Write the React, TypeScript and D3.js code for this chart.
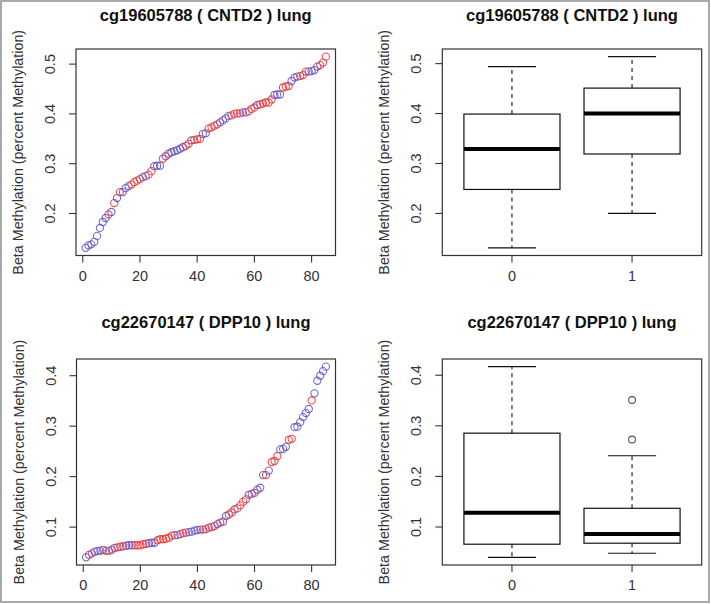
import React from "react";
import * as d3 from "d3";

// ---------- data ----------
const cntd2Title = "cg19605788 ( CNTD2 ) lung";
const dpp10Title = "cg22670147 ( DPP10 ) lung";
const yLabel = "Beta Methylation (percent Methylation)";

const cntd2Values = [
  0.131, 0.136, 0.138, 0.143, 0.155, 0.171, 0.183, 0.191, 0.198, 0.203,
  0.221, 0.231, 0.243, 0.243, 0.251, 0.255, 0.258, 0.263, 0.266, 0.269,
  0.273, 0.275, 0.278, 0.285, 0.295, 0.296, 0.296, 0.31, 0.315, 0.32,
  0.323, 0.325, 0.327, 0.33, 0.333, 0.336, 0.34, 0.347, 0.348, 0.349,
  0.35, 0.36, 0.361, 0.371, 0.373, 0.376, 0.379, 0.383, 0.387, 0.391,
  0.396, 0.397, 0.4, 0.401, 0.401, 0.403, 0.403, 0.405, 0.41, 0.413,
  0.418, 0.419, 0.421, 0.423, 0.423, 0.429, 0.438, 0.439, 0.439, 0.453,
  0.455, 0.456, 0.466, 0.473, 0.475, 0.476, 0.478, 0.485, 0.485, 0.486,
  0.488, 0.495, 0.498, 0.503, 0.515,
];
const cntd2Groups = [
  0, 0, 0, 0, 0, 0, 0, 0, 1, 0,
  1, 0, 1, 0, 0, 0, 1, 1, 1, 1,
  0, 0, 1, 1, 0, 0, 0, 1, 0, 1,
  0, 0, 0, 0, 0, 1, 1, 0, 1, 1,
  1, 0, 0, 1, 1, 1, 1, 0, 0, 0,
  0, 1, 1, 1, 1, 0, 0, 1, 1, 1,
  0, 1, 1, 1, 1, 1, 0, 0, 0, 1,
  1, 1, 0, 0, 0, 1, 1, 1, 0, 0,
  0, 0, 1, 1, 1,
];

const dpp10Values = [
  0.04, 0.045, 0.048, 0.051, 0.053, 0.053, 0.055, 0.053, 0.053, 0.055,
  0.059, 0.06, 0.061, 0.062, 0.063, 0.064, 0.064, 0.064, 0.064, 0.064,
  0.066, 0.067, 0.068, 0.069, 0.069, 0.074, 0.076, 0.076, 0.077, 0.079,
  0.083, 0.084, 0.084, 0.086, 0.088, 0.089, 0.09, 0.091, 0.093, 0.094,
  0.095, 0.095, 0.096, 0.099, 0.1, 0.102, 0.106, 0.109, 0.111, 0.122,
  0.125, 0.129, 0.135, 0.137, 0.143, 0.15, 0.155, 0.164, 0.166, 0.168,
  0.174, 0.178, 0.203, 0.203, 0.212, 0.229, 0.231, 0.241, 0.254, 0.255,
  0.259, 0.273, 0.275, 0.298, 0.299, 0.308, 0.318, 0.326, 0.334, 0.351,
  0.365, 0.39, 0.4, 0.409, 0.418,
];
const dpp10Groups = [
  0, 0, 1, 0, 0, 0, 0, 1, 1, 0,
  0, 1, 1, 1, 0, 0, 0, 1, 1, 1,
  1, 1, 0, 0, 0, 1, 1, 1, 1, 1,
  1, 1, 0, 0, 1, 1, 0, 0, 0, 0,
  0, 1, 1, 0, 1, 1, 0, 1, 0, 0,
  1, 1, 0, 1, 1, 1, 1, 0, 0, 1,
  0, 0, 0, 1, 0, 1, 1, 1, 0, 0,
  0, 1, 1, 0, 0, 0, 0, 0, 0, 1,
  0, 0, 0, 0, 0,
];

const boxCategories = ["0", "1"];
// [lower whisker, Q1, median, Q3, upper whisker]
const cntd2Box0 = [0.131, 0.248, 0.329, 0.399, 0.494];
const cntd2Box1 = [0.2, 0.319, 0.4, 0.451, 0.514];
const cntd2Outliers0: number[] = [];
const cntd2Outliers1: number[] = [];
const dpp10Box0 = [0.04, 0.066, 0.128, 0.2855, 0.417];
const dpp10Box1 = [0.048, 0.068, 0.0862, 0.137, 0.241];
const dpp10Outliers0: number[] = [];
const dpp10Outliers1 = [0.273, 0.351];

const xTicksScatter = [0, 20, 40, 60, 80];
const yTicksCntd2 = [0.2, 0.3, 0.4, 0.5];
const yTicksDpp10 = [0.1, 0.2, 0.3, 0.4];

// ---------- styles ----------
const FONT = "'Liberation Sans', Arial, sans-serif";
const COL_RED = "#f03a3a";
const COL_BLUE = "#6758c4";
const AXIS = "#333";

function rExtend(lo: number, hi: number): [number, number] {
  const r = hi - lo;
  return [lo - 0.04 * r, hi + 0.04 * r];
}

type Frame = { x0: number; x1: number; y0: number; y1: number; titleY: number };

function Axes({
  f, yScale, yTicks, xScale, xTicks, xLabels, title,
}: {
  f: Frame; yScale: d3.ScaleLinear<number, number>; yTicks: number[];
  xScale: (v: number) => number; xTicks: number[]; xLabels: string[]; title: string;
}) {
  const cx = (f.x0 + f.x1) / 2;
  const cy = (f.y0 + f.y1) / 2;
  return (
    <g fontFamily={FONT}>
      <text x={cx} y={f.titleY} textAnchor="middle" fontWeight="bold" fontSize={16.5} fill="#111">
        {title}
      </text>
      <text
        transform={`translate(${f.x0 - 53},${cy}) rotate(-90)`}
        textAnchor="middle" fontSize={14.3} fill="#333"
      >
        {yLabel}
      </text>
      <rect x={f.x0} y={f.y0} width={f.x1 - f.x0} height={f.y1 - f.y0} fill="none" stroke={AXIS} strokeWidth={1.2} />
      {yTicks.map((t) => (
        <g key={"y" + t}>
          <line x1={f.x0 - 7} x2={f.x0} y1={yScale(t)} y2={yScale(t)} stroke={AXIS} strokeWidth={1.1} />
          <text
            transform={`translate(${f.x0 - 21},${yScale(t)}) rotate(-90)`}
            textAnchor="middle" fontSize={14.5} fill="#333"
          >
            {d3.format(".1f")(t)}
          </text>
        </g>
      ))}
      {xTicks.map((t, i) => (
        <g key={"x" + t}>
          <line x1={xScale(t)} x2={xScale(t)} y1={f.y1} y2={f.y1 + 7} stroke={AXIS} strokeWidth={1.1} />
          <text x={xScale(t)} y={f.y1 + 25} textAnchor="middle" fontSize={14.5} fill="#333">
            {xLabels[i]}
          </text>
        </g>
      ))}
    </g>
  );
}

function ScatterPanel({ f, values, groups, yTicks, title }: {
  f: Frame; values: number[]; groups: number[]; yTicks: number[]; title: string;
}) {
  const n = values.length;
  const x = d3.scaleLinear().domain(rExtend(1, n)).range([f.x0, f.x1]);
  const [lo, hi] = d3.extent(values) as [number, number];
  const y = d3.scaleLinear().domain(rExtend(lo, hi)).range([f.y1, f.y0]);
  return (
    <g>
      <Axes f={f} yScale={y} yTicks={yTicks} xScale={x} xTicks={xTicksScatter}
        xLabels={xTicksScatter.map(String)} title={title} />
      {values.map((v, i) => (
        <circle key={i} cx={x(i + 1)} cy={y(v)} r={3.6} fill="none"
          stroke={groups[i] === 1 ? COL_RED : COL_BLUE} strokeWidth={1.1} strokeOpacity={0.9} />
      ))}
    </g>
  );
}

function BoxPanel({ f, boxes, outliers, yTicks, title }: {
  f: Frame; boxes: number[][]; outliers: number[][]; yTicks: number[]; title: string;
}) {
  const all = boxes.flat().concat(outliers.flat());
  const [lo, hi] = d3.extent(all) as [number, number];
  const y = d3.scaleLinear().domain(rExtend(lo, hi)).range([f.y1, f.y0]);
  const x = d3.scaleLinear().domain(rExtend(0.5, boxes.length + 0.5)).range([f.x0, f.x1]);
  const halfW = (x(1.4) - x(1)) ;
  const capW = halfW / 2;
  return (
    <g>
      <Axes f={f} yScale={y} yTicks={yTicks} xScale={(v) => x(v + 1)} xTicks={[0, 1]}
        xLabels={boxCategories} title={title} />
      {boxes.map((b, i) => {
        const cx = x(i + 1);
        const [wl, q1, med, q3, wh] = b;
        return (
          <g key={i} stroke="#111" fill="none">
            <line x1={cx} x2={cx} y1={y(q3)} y2={y(wh)} strokeDasharray="4,4" strokeWidth={1.1} />
            <line x1={cx} x2={cx} y1={y(q1)} y2={y(wl)} strokeDasharray="4,4" strokeWidth={1.1} />
            <line x1={cx - capW} x2={cx + capW} y1={y(wh)} y2={y(wh)} strokeWidth={1.1} />
            <line x1={cx - capW} x2={cx + capW} y1={y(wl)} y2={y(wl)} strokeWidth={1.1} />
            <rect x={cx - halfW} y={y(q3)} width={2 * halfW} height={y(q1) - y(q3)} strokeWidth={1.2} />
            <line x1={cx - halfW} x2={cx + halfW} y1={y(med)} y2={y(med)} strokeWidth={4} stroke="#000" />
            {outliers[i].map((o, j) => (
              <circle key={j} cx={cx} cy={y(o)} r={3.4} stroke="#555" strokeWidth={1.1} />
            ))}
          </g>
        );
      })}
    </g>
  );
}

export default function App() {
  const tl: Frame = { x0: 76, x1: 335.5, y0: 49, y1: 255.5, titleY: 21 };
  const tr: Frame = { x0: 442.3, x1: 701.7, y0: 49, y1: 255.5, titleY: 21 };
  const bl: Frame = { x0: 76.5, x1: 335.5, y0: 359, y1: 565, titleY: 328 };
  const br: Frame = { x0: 442.3, x1: 701.7, y0: 359, y1: 565, titleY: 328 };
  return (
    <svg width={711} height={604} style={{ position: "absolute", left: 0, top: 0, background: "#fff" }}>
      <rect x={0} y={0} width={711} height={604} fill="#fff" />
      <rect x={1} y={1} width={708} height={601} fill="none" stroke="#a9a9a9" strokeWidth={2} />
      <ScatterPanel f={tl} values={cntd2Values} groups={cntd2Groups} yTicks={yTicksCntd2} title={cntd2Title} />
      <BoxPanel f={tr} boxes={[cntd2Box0, cntd2Box1]} outliers={[cntd2Outliers0, cntd2Outliers1]}
        yTicks={yTicksCntd2} title={cntd2Title} />
      <ScatterPanel f={bl} values={dpp10Values} groups={dpp10Groups} yTicks={yTicksDpp10} title={dpp10Title} />
      <BoxPanel f={br} boxes={[dpp10Box0, dpp10Box1]} outliers={[dpp10Outliers0, dpp10Outliers1]}
        yTicks={yTicksDpp10} title={dpp10Title} />
    </svg>
  );
}
